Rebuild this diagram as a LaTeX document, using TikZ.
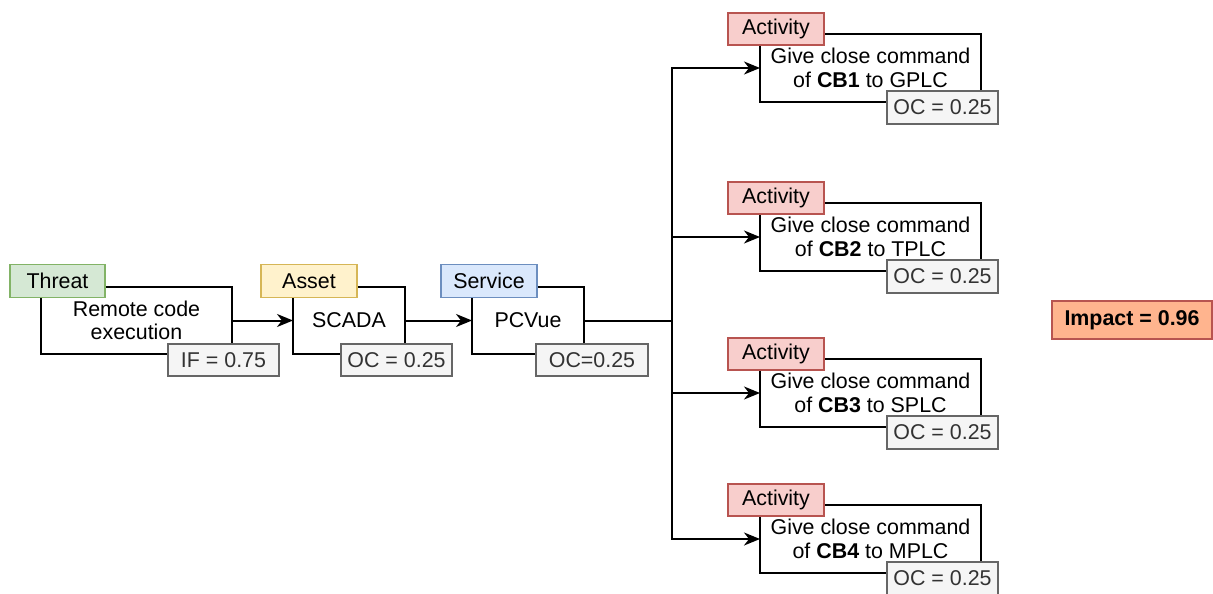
\documentclass[tikz,border=0pt]{standalone}
\usepackage{fontspec}
\setmainfont{Liberation Sans}
\usetikzlibrary{arrows.meta}
\definecolor{thrfill}{HTML}{D5E8D4}\definecolor{thrline}{HTML}{82B366}
\definecolor{astfill}{HTML}{FFF2CC}\definecolor{astline}{HTML}{D6B656}
\definecolor{svcfill}{HTML}{DAE8FC}\definecolor{svcline}{HTML}{6C8EBF}
\definecolor{actfill}{HTML}{F8CECC}\definecolor{actline}{HTML}{B85450}
\definecolor{valfill}{HTML}{F5F5F5}\definecolor{valline}{HTML}{666666}
\definecolor{valtext}{HTML}{333333}
\definecolor{impfill}{HTML}{FFB48E}
\begin{document}
\begin{tikzpicture}[x=1pt,y=-1pt,
  every node/.style={inner sep=0pt,outer sep=0pt,font=\fontsize{21.4}{23.5}\selectfont},
  mainbox/.style={draw=black,fill=white,line width=1.9pt,minimum height=67pt,align=center},
  tagbox/.style={line width=1.9pt,minimum width=96pt,minimum height=33pt},
  threattag/.style={tagbox,draw=thrline,fill=thrfill},
  assettag/.style={tagbox,draw=astline,fill=astfill},
  servicetag/.style={tagbox,draw=svcline,fill=svcfill},
  activitytag/.style={tagbox,draw=actline,fill=actfill},
  valbox/.style={draw=valline,fill=valfill,text=valtext,line width=1.9pt,minimum width=111pt,minimum height=32pt},
  flow/.style={line width=2pt,-{Stealth[length=16pt,width=13pt,inset=5pt]}},
  link/.style={line width=2pt}
]
\useasboundingbox (0,0) rectangle (1213,594);

% threat -> asset -> service chain
\node[mainbox,minimum width=191pt] (thr) at (136.5,320.5) {Remote code\\execution};
\node[threattag,minimum width=95pt] (thrtag) at (57.5,281) {Threat};
\node[valbox] (thrval) at (223.5,360) {IF = 0.75};

\node[mainbox,minimum width=112pt] (ast) at (349,320.5) {SCADA};
\node[assettag] (asttag) at (309,281) {Asset};
\node[valbox] (astval) at (396.5,360) {OC = 0.25};

\node[mainbox,minimum width=112pt] (svc) at (528,320.5) {PCVue};
\node[servicetag] (svctag) at (489,281) {Service};
\node[valbox,minimum width=112pt] (svcval) at (592,360) {OC=0.25};

\draw[flow] (thr.east) -- (ast.west);
\draw[flow] (ast.east) -- (svc.west);

% fan-out to the four activities
\coordinate (split) at (672,320.5);
\draw[link] (svc.east) -- (split);

\foreach \k/\dy/\cb/\plc in {1/0/CB1/GPLC,2/169/CB2/TPLC,3/325/CB3/SPLC,4/471/CB4/MPLC}{
  \node[mainbox,minimum width=221pt,minimum height=68pt] (act\k) at (870.5,68+\dy)
    {Give close command\\of \textbf{\cb} to \plc};
  \node[activitytag,minimum height=32pt] (acttag\k) at (776,29+\dy) {Activity};
  \node[valbox,minimum height=33pt] (actval\k) at (942.5,107.5+\dy) {OC = 0.25};
  \draw[flow] (split) |- (act\k.west);
}

% overall result
\node[draw=actline,fill=impfill,line width=1.5pt,minimum width=160pt,minimum height=38pt,
  font=\fontsize{21.4}{23.5}\selectfont\bfseries] (impact) at (1132,320) {Impact = 0.96};
\end{tikzpicture}
\end{document}
